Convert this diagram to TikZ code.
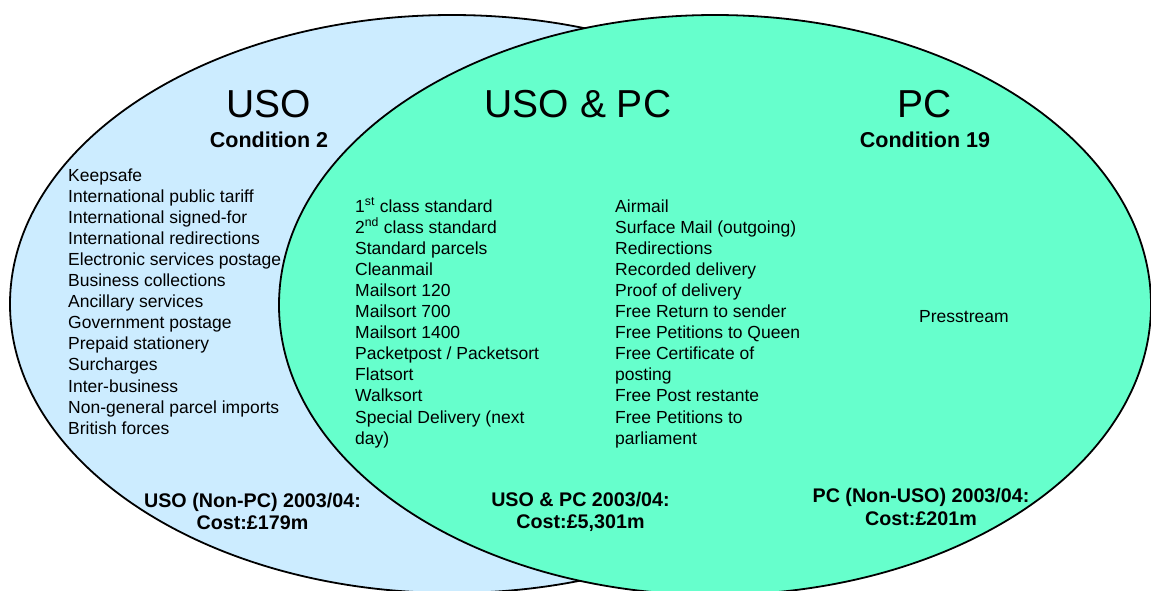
\documentclass[tikz,border=0pt]{standalone}
\usepackage{fontspec}
\setmainfont{Liberation Sans}
\definecolor{usoblue}{HTML}{CCECFF}
\definecolor{pcgreen}{HTML}{66FFCC}
\tikzset{
  setshape/.style={draw=black, line width=1.8pt},
  title/.style={font=\fontsize{39}{47}\selectfont, anchor=base, inner sep=0pt},
  cond/.style={font=\bfseries\fontsize{21.5}{26}\selectfont, anchor=base, inner sep=0pt},
  item/.style={font=\fontsize{17.5}{21}\selectfont, anchor=base west, inner sep=0pt},
  cost/.style={font=\bfseries\fontsize{19.7}{23}\selectfont, anchor=base, inner sep=0pt}
}
\begin{document}
\begin{tikzpicture}[x=1pt,y=-1pt]
\useasboundingbox (0,0) rectangle (1151,590);
\clip (0,0) rectangle (1151,590);
% sets
\draw[setshape, fill=usoblue] (452,304) ellipse [x radius=442, y radius=289];
\draw[setshape, fill=pcgreen] (715,305) ellipse [x radius=436, y radius=290];
% titles
\node[title] (tuso) at (269,117) {USO};
\node[title] (tboth) at (578,117) {USO \& PC};
\node[title] (tpc) at (925,117) {PC};
\node[cond] (cuso) at (269,147) {Condition 2};
\node[cond] (cpc) at (925,147) {Condition 19};
% lists
\foreach \t [count=\i from 0] in {Keepsafe, International public tariff, International signed-for, International redirections, Electronic services postage, Business collections, Ancillary services, Government postage, Prepaid stationery, Surcharges, Inter-business, Non-general parcel imports, British forces}
  \node[item] (uso\i) at (68,{181+21.1*\i}) {\t};
\foreach \t [count=\i from 0] in {{1\textsuperscript{st} class standard}, {2\textsuperscript{nd} class standard}, Standard parcels, Cleanmail, Mailsort 120, Mailsort 700, Mailsort 1400, Packetpost / Packetsort, Flatsort, Walksort, Special Delivery (next, day)}
  \node[item] (bothA\i) at (355,{212+21.1*\i}) {\t};
\foreach \t [count=\i from 0] in {Airmail, Surface Mail (outgoing), Redirections, Recorded delivery, Proof of delivery, Free Return to sender, Free Petitions to Queen, Free Certificate of, posting, Free Post restante, Free Petitions to, parliament}
  \node[item] (bothB\i) at (615,{212+21.1*\i}) {\t};
\node[item] (press) at (919,322) {Presstream};
% costs
\node[cost] (usocost1) at (252.5,507) {USO (Non-PC) 2003/04:};
\node[cost] (usocost2) at (252.5,529) {Cost:£179m};
\node[cost] (bothcost1) at (580.5,506) {USO \& PC 2003/04:};
\node[cost] (bothcost2) at (580.5,528) {Cost:£5,301m};
\node[cost] (pccost1) at (921,502) {PC (Non-USO) 2003/04:};
\node[cost] (pccost2) at (921,525) {Cost:£201m};
\end{tikzpicture}
\end{document}
